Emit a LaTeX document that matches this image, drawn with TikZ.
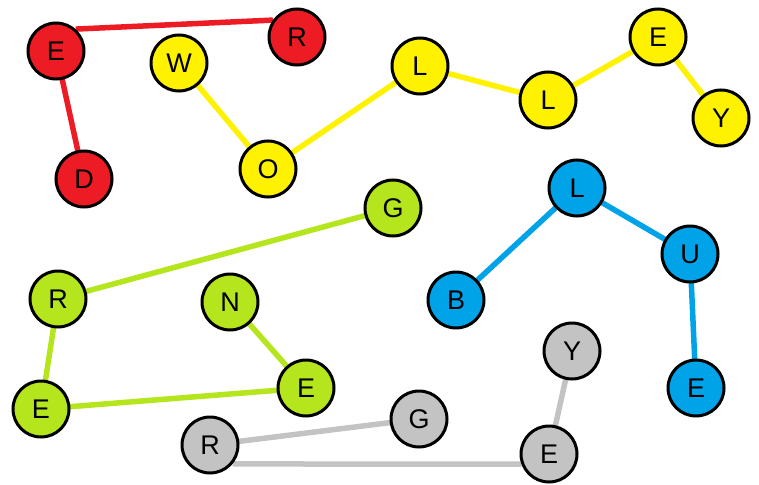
\documentclass[tikz,border=0pt]{standalone}
\usepackage{fontspec}
\setmainfont{Liberation Sans}
\usetikzlibrary{backgrounds}
\definecolor{cred}{HTML}{ED1C24}
\definecolor{cyel}{HTML}{FFF200}
\definecolor{cgrn}{HTML}{B5E61D}
\definecolor{cblu}{HTML}{00A2E8}
\definecolor{cgry}{HTML}{C3C3C3}
\tikzset{
  ball/.style={circle, draw=black, line width=3pt, minimum size=56pt, inner sep=0pt,
    font=\fontsize{27}{27}\selectfont},
  rb/.style={ball, fill=cred}, yb/.style={ball, fill=cyel}, gb/.style={ball, fill=cgrn},
  bb/.style={ball, fill=cblu}, sb/.style={ball, fill=cgry},
  link/.style={line width=5.5pt}
}
\begin{document}
\begin{tikzpicture}[x=1pt,y=-1pt]
\useasboundingbox (0,0) rectangle (759,484);
% red
\node[rb] (rE) at (56,51) {E};
\node[rb] (rR) at (297,37) {R};
\node[rb] (rD) at (84,179) {D};
% yellow
\node[yb] (yW) at (179,63) {W};
\node[yb] (yO) at (268,169) {O};
\node[yb] (yL1) at (420,66) {L};
\node[yb] (yL2) at (548,100) {L};
\node[yb] (yE) at (658,37) {E};
\node[yb] (yY) at (721,118) {Y};
% green
\node[gb] (gG) at (393,208) {G};
\node[gb] (gR) at (58,299) {R};
\node[gb] (gN) at (230,302) {N};
\node[gb] (gE2) at (306,388) {E};
\node[gb] (gE1) at (41,409) {E};
% blue
\node[bb] (bL) at (577,188) {L};
\node[bb] (bB) at (456,300) {B};
\node[bb] (bU) at (690,254) {U};
\node[bb] (bE) at (696,388) {E};
% gray
\node[sb] (sY) at (572,351) {Y};
\node[sb] (sG) at (419,419) {G};
\node[sb] (sR) at (210,445) {R};
\node[sb] (sE) at (549,454) {E};
\begin{scope}[on background layer]
\draw[link, cred] (rE.48) -- (rR.145);
\draw[link, cred] (rE.center) -- (rD.center);
\draw[link, cyel] (yW.center) -- (yO.center) -- (yL1.center) -- (yL2.center) -- (yE.center) -- (yY.center);
\draw[link, cgrn] (gG.center) -- (gR.center) -- (gE1.center) -- (gE2.center) -- (gN.center);
\draw[link, cblu] (bB.center) -- (bL.center) -- (bU.center) -- (bE.center);
\draw[link, cgry] (sY.center) -- (sE.center);
\draw[link, cgry] (sR.center) -- (sG.center);
\draw[link, cgry] (sR.-40) -- (sE.200);
\end{scope}
\end{tikzpicture}
\end{document}
